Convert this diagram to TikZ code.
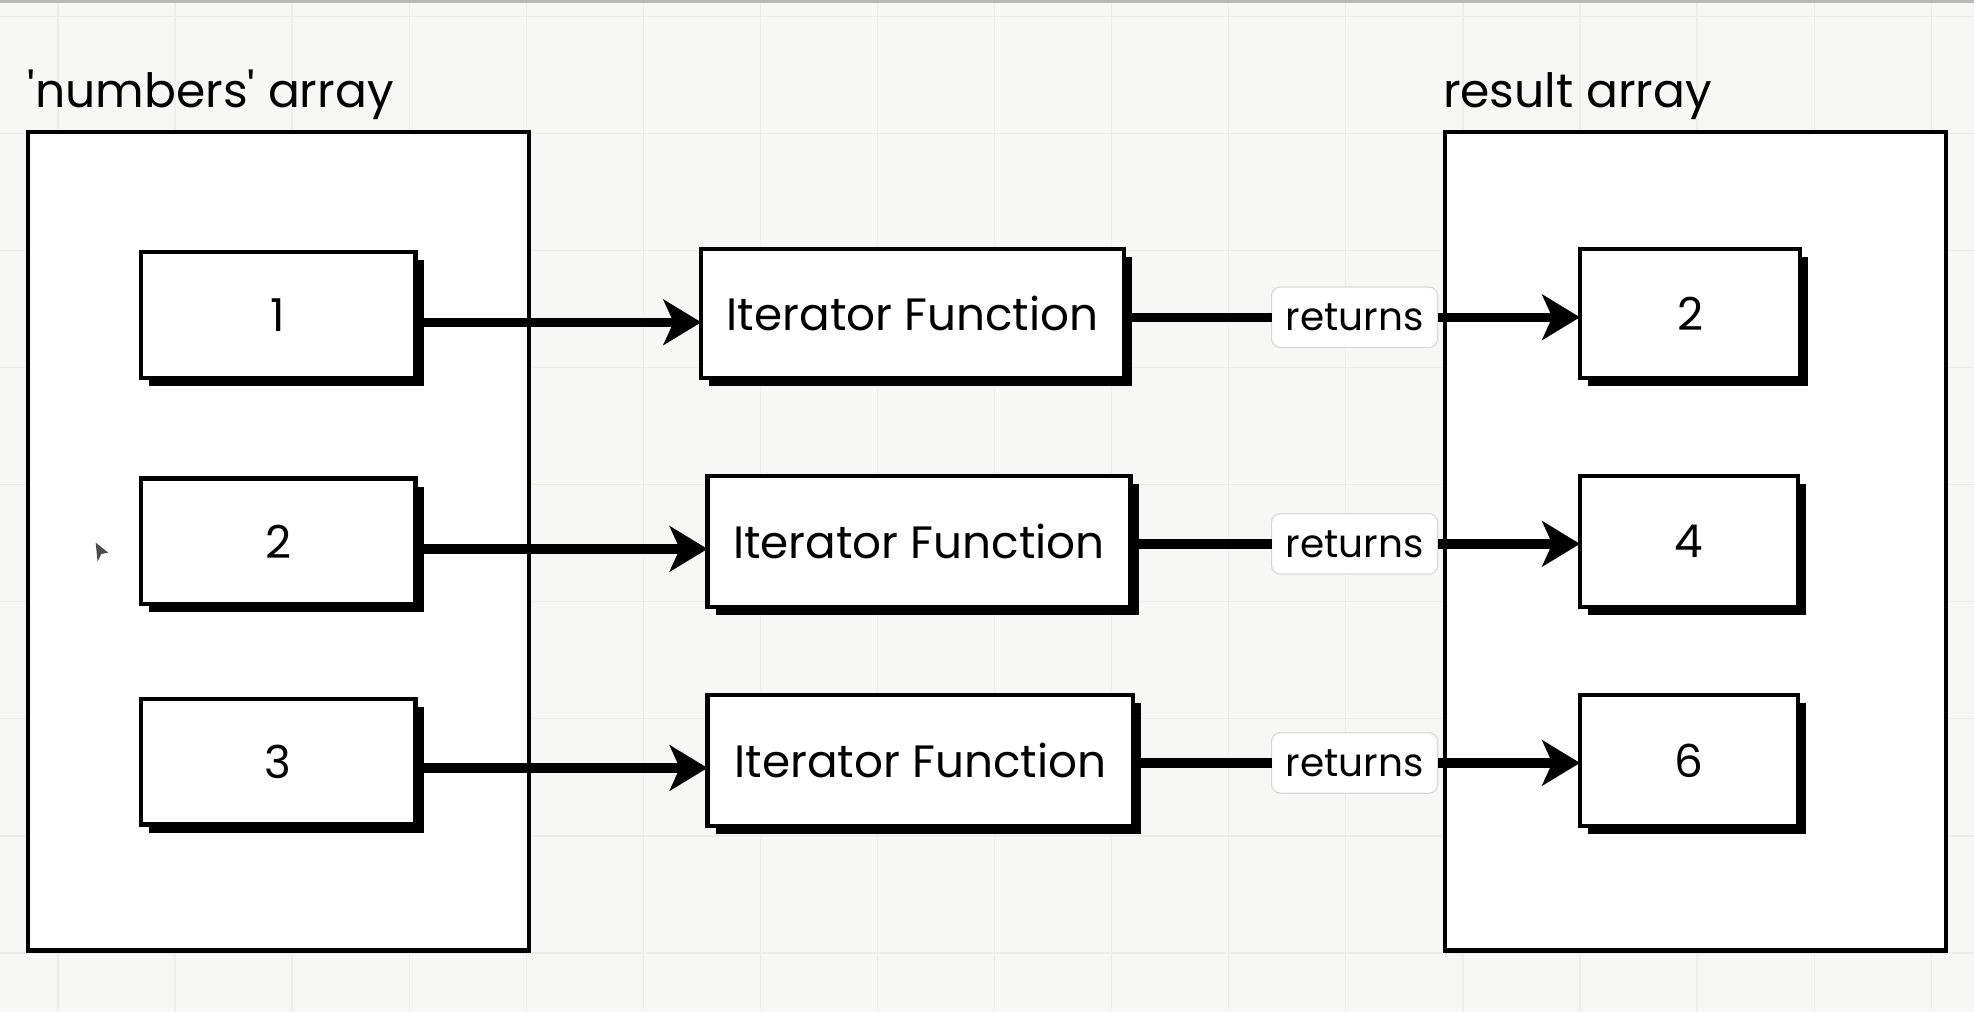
\documentclass[tikz,border=0pt]{standalone}
\usepackage{fontspec}
\setmainfont{Poppins}
\usetikzlibrary{arrows.meta,shadows}
\definecolor{bgc}{HTML}{F7F7F6}
\definecolor{gridc}{HTML}{EDEDEC}
\definecolor{retc}{HTML}{DADADA}
\begin{document}
\begin{tikzpicture}[x=1pt,y=-1pt,
  bigfont/.style={font=\fontsize{36}{40}\selectfont},
  bigbox/.style={draw, fill=white, line width=3.4pt, inner sep=0pt, outer sep=0pt},
  valbox/.style={draw, fill=white, line width=3.4pt, inner sep=0pt, outer sep=0pt,
     bigfont, drop shadow={shadow xshift=6.5pt, shadow yshift=-6.5pt, fill=black, opacity=1}},
  retbox/.style={draw=retc, fill=white, line width=1pt, rounded corners=7pt,
     minimum width=132pt, minimum height=48pt, inner sep=0pt, outer sep=0pt,
     font=\fontsize{31}{34}\selectfont},
  arr/.style={line width=7.5pt, -{Stealth[length=30pt,width=36pt,inset=8pt]}},
  conn/.style={line width=7.5pt},
  lbl/.style={font=\fontsize{37.5}{40}\selectfont, anchor=base west, inner sep=0pt}]
\fill[bgc] (0,0) rectangle (1568,804);
\useasboundingbox (0,0) rectangle (1568,804);
\foreach \x in {46,139,...,1534} \draw[gridc, line width=1pt] (\x,0) -- (\x,804);
\foreach \y in {13,106,...,757} \draw[gridc, line width=1pt] (0,\y) -- (1568,\y);
\fill[gray!55] (0,0) rectangle (1568,2.5);

% labels
\node[lbl] (numlbl) at (22,85) {\textquotesingle numbers\textquotesingle\ array};
\node[lbl] (reslbl) at (1146,85) {result array};

% big boxes
\node[bigbox, anchor=north west, minimum width=398pt, minimum height=650pt] (numarr) at (22,105) {};
\node[bigbox, anchor=north west, minimum width=398pt, minimum height=650pt] (resarr) at (1148,105) {};

% value boxes
\node[valbox, minimum width=218pt, minimum height=100pt] (v1) at (221,250) {1};
\node[valbox, minimum width=218pt, minimum height=100pt] (v2) at (221,430) {2};
\node[valbox, minimum width=218pt, minimum height=100pt] (v3) at (221,605) {3};

% iterator boxes
\node[valbox, minimum width=336pt, minimum height=102pt] (it1) at (725,249) {Iterator Function};
\node[valbox, minimum width=336pt, minimum height=104pt] (it2) at (730,430) {Iterator Function};
\node[valbox, minimum width=338pt, minimum height=104pt] (it3) at (731,604) {Iterator Function};

% result boxes
\node[valbox, minimum width=175pt, minimum height=102pt] (r1) at (1342.5,249) {2};
\node[valbox, minimum width=173pt, minimum height=104pt] (r2) at (1341.5,430) {4};
\node[valbox, minimum width=173pt, minimum height=104pt] (r3) at (1341.5,604) {6};

% returns labels
\node[retbox] (ret1) at (1076,252) {returns};
\node[retbox] (ret2) at (1076,432) {returns};
\node[retbox] (ret3) at (1076,606) {returns};

% connectors left
\draw[arr] ([yshift=-6pt]v1.east) -- ([yshift=-6pt]v1.east -| it1.west);
\draw[arr] ([yshift=-6pt]v2.east) -- ([yshift=-6pt]v2.east -| it2.west);
\draw[arr] ([yshift=-5pt]v3.east) -- ([yshift=-5pt]v3.east -| it3.west);

% connectors right
\draw[conn] (it1.east |- ret1) -- (ret1.west);
\draw[conn] (it2.east |- ret2) -- (ret2.west);
\draw[conn] (it3.east |- ret3) -- (ret3.west);
\draw[arr] (ret1.east) -- (ret1.east -| r1.west);
\draw[arr] (ret2.east) -- (ret2.east -| r2.west);
\draw[arr] (ret3.east) -- (ret3.east -| r3.west);

% cursor
\fill[gray!60!black] (76,431) -- (86,439) -- (80.5,440) -- (77.5,446) -- cycle;
\end{tikzpicture}
\end{document}
